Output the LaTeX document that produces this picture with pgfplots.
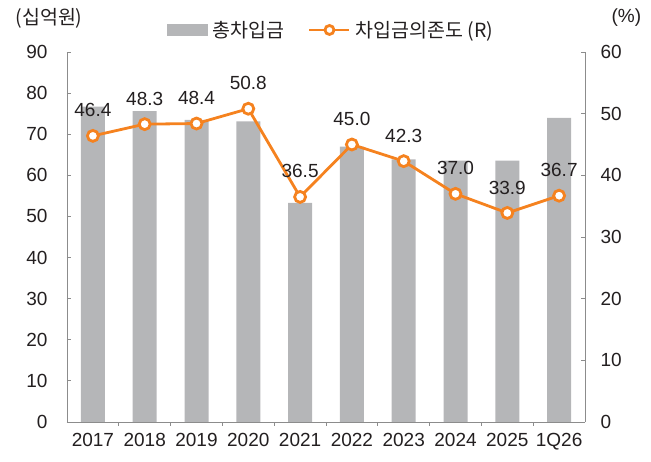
\documentclass[border=0pt]{standalone}
\usepackage{pgfplots}
\pgfplotsset{compat=1.18}
\usepackage{fontspec}
\setmainfont{Liberation Sans}
\newfontfamily\kr{Noto Sans CJK KR}
\definecolor{bargray}{HTML}{B5B6B8}
\definecolor{lineorange}{HTML}{F5821F}
\definecolor{axisgray}{HTML}{8C8C8C}
\definecolor{txt}{HTML}{231F20}

\begin{document}
\begin{tikzpicture}[font=\fontsize{19}{22}\selectfont]
% left axis: total borrowings (bars)
\begin{axis}[
  scale only axis, width=518pt, height=370pt,
  at={(0pt,0pt)}, anchor=south west,
  xmin=-0.5, xmax=9.5, ymin=0, ymax=90,
  axis x line*=bottom, axis y line*=left,
  axis line style={draw=axisgray, line width=0.8pt},
  xtick={0,...,9},
  xticklabels={2017,2018,2019,2020,2021,2022,2023,2024,2025,1Q26},
  xtick style={draw=none},
  extra x ticks={0.5,1.5,...,8.5}, extra x tick labels={},
  extra x tick style={xtick style={draw=axisgray, line width=0.8pt}},
  ytick={0,10,...,90},
  ytick style={draw=axisgray, line width=0.8pt},
  major tick length=4pt,
  tick label style={font=\fontsize{19}{22}\selectfont, text=txt},
  /pgf/number format/assume math mode=true,
  yticklabel style={xshift=-16pt},
  xticklabel style={yshift=-4pt},
  ybar, bar width=24pt,
  clip=false,
]
\addplot[fill=bargray, draw=none] coordinates {
  (0,76.7) (1,75.6) (2,73.5) (3,73.1) (4,53.3)
  (5,67.0) (6,63.9) (7,63.6) (8,63.6) (9,74.0)
};
\end{axis}
% right axis: borrowing dependence (line)
\begin{axis}[
  scale only axis, width=518pt, height=370pt,
  at={(0pt,0pt)}, anchor=south west,
  xmin=-0.5, xmax=9.5, ymin=0, ymax=60,
  axis y line*=right, axis x line=none,
  axis line style={draw=axisgray, line width=0.8pt},
  ytick={0,10,...,60},
  ytick style={draw=axisgray, line width=0.8pt},
  major tick length=4pt,
  tick label style={font=\fontsize{19}{22}\selectfont, text=txt},
  /pgf/number format/assume math mode=true,
  yticklabel style={xshift=12pt},
  clip=false,
  legend style={at={(0.51,1)}, anchor=south, yshift=9pt, draw=none, fill=none,
    legend columns=2, font=\kr\fontsize{19.5}{22}\selectfont, text=txt,
    /tikz/every odd column/.append style={column sep=3pt},
    /tikz/every even column/.append style={column sep=22pt}},
]
\addlegendimage{legend image code/.code={\fill[bargray] (0pt,-5.5pt) rectangle (40pt,5.5pt);}}
\addlegendentry{총차입금}
\addplot[lineorange, line width=2.8pt, mark=*, mark size=5.5pt,
  mark options={fill=white, draw=lineorange, line width=2.8pt},
  legend image code/.code={
    \draw[lineorange, line width=2.8pt] (0pt,0pt) -- (40pt,0pt);
    \draw[lineorange, line width=2.8pt, fill=white] (20pt,0pt) circle (4.5pt);},
  nodes near coords, point meta=explicit symbolic,
  every node near coord/.append style={text=txt, yshift=14pt,
    font=\fontsize{19}{22}\selectfont},
] coordinates {
  (0,46.4) [46.4] (1,48.3) [48.3] (2,48.4) [48.4] (3,50.8) [50.8]
  (4,36.5) [36.5] (5,45.0) [45.0] (6,42.3) [42.3] (7,37.0) [37.0]
  (8,33.9) [33.9] (9,36.7) [36.7]
};
\addlegendentry{차입금의존도 (R)}
\end{axis}
\node[anchor=west, text=txt, font=\kr\fontsize{19.5}{22}\selectfont] at (-55pt,404pt) {(십억원)};
\node[anchor=west, text=txt] at (541pt,404pt) {(\%)};
\path[use as bounding box] (-67pt,-40pt) rectangle (584pt,422pt);
\end{tikzpicture}
\end{document}
